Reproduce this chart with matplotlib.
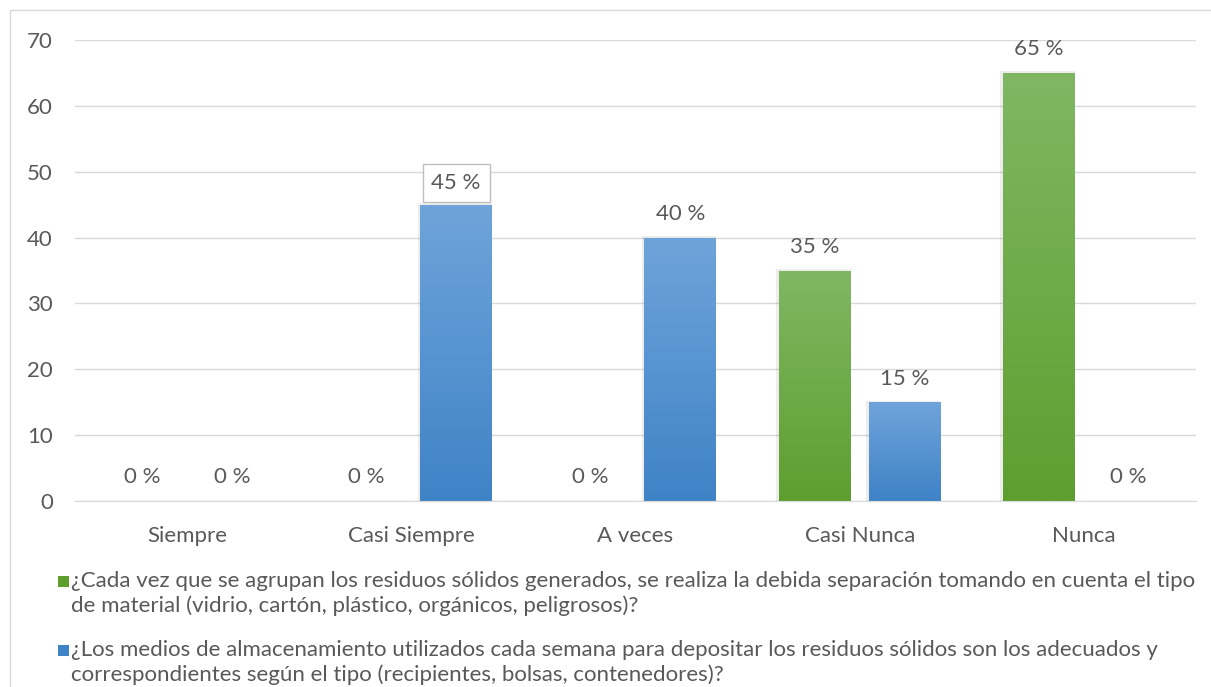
import numpy as np
import matplotlib.pyplot as plt
from matplotlib.patches import Rectangle

plt.rcParams['font.family'] = ['Lato', 'DejaVu Sans']

categorias = ["Siempre", "Casi Siempre", "A veces", "Casi Nunca", "Nunca"]
separacion = [0, 0, 0, 35, 65]
almacenamiento = [0, 45, 40, 15, 0]
etiquetas_sep = ["0 %", "0 %", "0 %", "35 %", "65 %"]
etiquetas_alm = ["0 %", "45 %", "40 %", "15 %", "0 %"]
leyenda = [
    "¿Cada vez que se agrupan los residuos sólidos generados, se realiza la debida separación tomando en cuenta el tipo\n"
    "de material (vidrio, cartón, plástico, orgánicos, peligrosos)?",
    "¿Los medios de almacenamiento utilizados cada semana para depositar los residuos sólidos son los adecuados y\n"
    "correspondientes según el tipo (recipientes, bolsas, contenedores)?",
]

gris = "#595959"
verde = ("#80B763", "#5E9E2F")
azul = ("#6FA4DA", "#3F83C7")
fs = 16

fig = plt.figure(figsize=(12.11, 6.87), dpi=100)
ax = fig.add_axes([75/1211, 1-501/687, (1196-75)/1211, (501-40)/687])

x = np.arange(len(categorias))
w = 0.32
off = 0.2

grad = np.linspace(0, 1, 256).reshape(-1, 1)

def barras(xs, vals, cols):
    bars = ax.bar(xs, vals, w, color="none", edgecolor="none", zorder=3)
    for b, v in zip(bars, vals):
        if v <= 0:
            continue
        x0 = b.get_x()
        # sombra suave
        ax.add_patch(Rectangle((x0 - 0.012, 0), w + 0.012, v + 0.25,
                               facecolor="#000000", alpha=0.07, edgecolor="none", zorder=2))
        cmap = plt.matplotlib.colors.LinearSegmentedColormap.from_list("g", [cols[1], cols[0]])
        im = ax.imshow(grad, extent=[x0, x0 + w, 0, v], origin="lower", cmap=cmap,
                       aspect="auto", zorder=3)
        im.set_clip_path(b)
    return bars

barras(x - off, separacion, verde)
barras(x + off, almacenamiento, azul)

for xi, v, t in zip(x - off, separacion, etiquetas_sep):
    ax.annotate(t, (xi, v), xytext=(0, 17), textcoords="offset points",
                ha="center", va="center", fontsize=fs, color=gris, zorder=5)
for xi, v, t in zip(x + off, almacenamiento, etiquetas_alm):
    kw = {}
    if t == "45 %":
        kw["bbox"] = dict(boxstyle="square,pad=0.4", fc="white", ec="#BFBFBF", lw=1)
    ax.annotate(t, (xi, v), xytext=(0, 17 if t != "45 %" else 15.5), textcoords="offset points",
                ha="center", va="center", fontsize=fs, color=gris, zorder=5, **kw)

ax.set_xlim(-0.5, len(categorias) - 0.5)
ax.set_ylim(0, 70)
ax.set_yticks(np.arange(0, 71, 10))
ax.set_xticks(x)
ax.set_xticklabels(categorias)
ax.tick_params(axis="both", length=0, labelsize=fs, labelcolor=gris)
ax.tick_params(axis="x", pad=18)
ax.tick_params(axis="y", pad=16)
ax.grid(axis="y", color="#D9D9D9", lw=1, zorder=0)
ax.set_axisbelow(True)
for s in ["top", "right", "left"]:
    ax.spines[s].set_visible(False)
ax.spines["bottom"].set_color("#D9D9D9")
ax.spines["bottom"].set_zorder(4)

# leyenda manual
for i, (txt, col) in enumerate(zip(leyenda, [verde[1], azul[1]])):
    ytop = 1 - (571 + i * 69) / 687
    fig.add_artist(Rectangle((58/1211, ytop - 16/687), 11/1211, 11/687,
                             transform=fig.transFigure, facecolor=col, edgecolor="none"))
    fig.text(71/1211, ytop, txt, ha="left", va="top", fontsize=fs,
             color=gris, linespacing=1.25)

# borde exterior
fig.add_artist(Rectangle((10/1211, -0.01), 1.1, 1 - 10/687 + 0.01, transform=fig.transFigure,
                         facecolor="none", edgecolor="#D9D9D9", lw=1))

fig.savefig("out.png", dpi=100)
